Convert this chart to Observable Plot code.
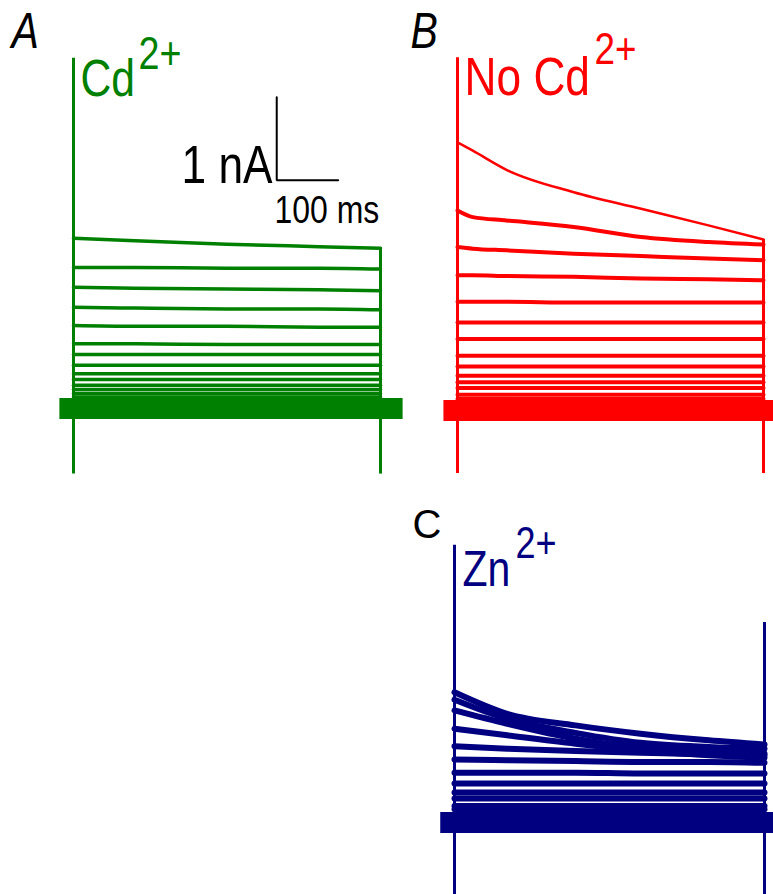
<!DOCTYPE html>
<html><head><meta charset="utf-8">
<script src="https://cdn.jsdelivr.net/npm/d3@7"></script>
<script src="https://cdn.jsdelivr.net/npm/@observablehq/plot@0.6"></script>
<style>
html,body{margin:0;padding:0;background:#fff;}
#fig{position:relative;width:773px;height:894px;overflow:hidden;background:#fff;}
#fig > div{position:absolute;}
#fig svg{display:block;}
</style></head>
<body>
<div id="fig">
  <div id="pA" style="left:0;top:0"></div>
  <div id="pB" style="left:400px;top:0"></div>
  <div id="pC" style="left:400px;top:480px"></div>
</div>
<script>
// ---- Data (time in ms, current in nA) ----
const panelLetters = ["A", "B", "C"];
const solutionNames = ["Cd", "No Cd", "Zn"];
const ionCharge = "2+";
const scaleBarLabels = ["1 nA", "100 ms"];
const scaleBarTimes = [0, 100];      // ms
const scaleBarCurrents = [0, 1];     // nA

const holdingTimes = [-23, 536];
const holdingCurrents = [0, 0];

const transientTimes = [0, 500];

// Panel A: Cd2+
const timesA = [0, 100, 250, 400, 500];
const cdCurrents = [
  [2.05, 2.02, 1.98, 1.95, 1.93],
  [1.70, 1.70, 1.69, 1.69, 1.68],
  [1.46, 1.45, 1.44, 1.43, 1.42],
  [1.22, 1.21, 1.20, 1.20, 1.19],
  [1.00, 0.99, 0.99, 0.98, 0.98],
  [0.78, 0.78, 0.77, 0.77, 0.77],
  [0.65, 0.65, 0.65, 0.65, 0.65],
  [0.52, 0.52, 0.52, 0.52, 0.52],
  [0.42, 0.42, 0.42, 0.42, 0.42],
  [0.35, 0.35, 0.35, 0.35, 0.35],
  [0.28, 0.28, 0.28, 0.28, 0.28],
  [0.23, 0.23, 0.23, 0.23, 0.23],
  [0.18, 0.18, 0.18, 0.18, 0.18],
  [0.14, 0.14, 0.14, 0.14, 0.14]
];
const cdTransientPeaks = [4.22, 1.93];
const cdTransientTroughs = [-0.79, -0.79];

// Panel B: No Cd2+
const timesB = [0, 25, 80, 190, 300, 410, 500];
const noCdCurrents = [
  [3.23, 3.13, 2.90, 2.63, 2.43, 2.23, 2.06],
  [2.41, 2.33, 2.29, 2.21, 2.09, 2.03, 2.00],
  [1.97, 1.95, 1.93, 1.89, 1.86, 1.83, 1.81],
  [1.63, 1.63, 1.62, 1.61, 1.59, 1.58, 1.57],
  [1.31, 1.31, 1.31, 1.30, 1.30, 1.30, 1.30],
  [1.06, 1.06, 1.06, 1.06, 1.06, 1.06, 1.06],
  [0.86, 0.86, 0.86, 0.86, 0.86, 0.86, 0.86],
  [0.66, 0.66, 0.66, 0.66, 0.66, 0.66, 0.66],
  [0.53, 0.53, 0.53, 0.53, 0.53, 0.53, 0.53],
  [0.42, 0.42, 0.42, 0.42, 0.42, 0.42, 0.42],
  [0.34, 0.34, 0.34, 0.34, 0.34, 0.34, 0.34],
  [0.27, 0.27, 0.27, 0.27, 0.27, 0.27, 0.27],
  [0.19, 0.19, 0.19, 0.19, 0.19, 0.19, 0.19],
  [0.14, 0.14, 0.14, 0.14, 0.14, 0.14, 0.14]
];
const noCdTransientPeaks = [4.25, 2.06];
const noCdTransientTroughs = [-0.76, -0.76];

// Panel C: Zn2+
const timesC = [0, 85, 195, 300, 410, 500];
const znCurrents = [
  [1.57, 1.31, 1.17, 1.07, 0.99, 0.94],
  [1.48, 1.25, 1.08, 0.96, 0.91, 0.89],
  [1.35, 1.19, 1.01, 0.90, 0.85, 0.83],
  [1.13, 1.05, 0.95, 0.87, 0.81, 0.78],
  [0.92, 0.89, 0.86, 0.84, 0.82, 0.81],
  [0.76, 0.75, 0.74, 0.73, 0.73, 0.72],
  [0.60, 0.60, 0.60, 0.59, 0.59, 0.59],
  [0.47, 0.47, 0.47, 0.47, 0.47, 0.47],
  [0.36, 0.36, 0.36, 0.36, 0.36, 0.36],
  [0.29, 0.29, 0.29, 0.29, 0.29, 0.29],
  [0.20, 0.20, 0.20, 0.20, 0.20, 0.20],
  [0.16, 0.16, 0.16, 0.16, 0.16, 0.16]
];
const znTransientPeaks = [3.34, 2.41];
const znTransientTroughs = [-0.9, -0.9];

// ---- Helpers ----
const NARROW = "'Liberation Sans Narrow', 'Arial Narrow', 'Liberation Sans', Arial, sans-serif";
const REGULAR = "'Liberation Sans', Arial, sans-serif";
const NARROW_SCALE = 0.82;
const PX_PER_NA = 83;

function rowsOf(times, currents) {
  return currents.flatMap((vals, k) => vals.map((v, j) => ({trace: k, t: times[j], i: v})));
}
const holdingRows = holdingTimes.map((t, j) => ({t, i: holdingCurrents[j]}));
function transientRows(peaks, troughs) {
  return transientTimes.map((t, j) => ({t, hi: peaks[j], lo: troughs[j]}));
}
function label(text, o) {
  return Plot.text([text], {
    frameAnchor: "top-left", text: d => d, textAnchor: "start", lineAnchor: "bottom",
    fontFamily: NARROW, ...o
  });
}
// condense text drawn in the narrow family (the narrow face is not installed)
function condense(svg) {
  svg.querySelectorAll('g[font-family*="Narrow"] text').forEach(t => {
    const tr = t.getAttribute("transform") || "";
    const x = parseFloat(t.getAttribute("x")) || 0;
    t.removeAttribute("x");
    t.setAttribute("transform", `${tr} translate(${x},0) scale(${NARROW_SCALE},1)`);
  });
  return svg;
}

function panel({width, height, xr, y0, color, times, currents, peaks, troughs, traceW, topW, letter, letterOpts, name, nameOpts, chargeOpts, extra = []}) {
  const rows = rowsOf(times, currents);
  const topRows = topW ? rows.filter(d => d.trace === 0) : [];
  const restRows = topW ? rows.filter(d => d.trace !== 0) : rows;
  return condense(Plot.plot({
    width, height, margin: 0,
    x: {domain: [0, 500], range: xr, axis: null},
    y: {domain: [0, 1], range: [y0, y0 - PX_PER_NA], axis: null},
    style: {background: "transparent", overflow: "visible"},
    marks: [
      Plot.line(holdingRows, {x: "t", y: "i", stroke: color, strokeWidth: 21, strokeLinecap: "butt"}),
      Plot.line(restRows, {x: "t", y: "i", z: "trace", stroke: color, strokeWidth: traceW, curve: "monotone-x"}),
      ...(topW ? [Plot.line(topRows, {x: "t", y: "i", stroke: color, strokeWidth: topW, curve: "monotone-x"})] : []),
      Plot.ruleX(transientRows(peaks, troughs), {x: "t", y1: "lo", y2: "hi", stroke: color, strokeWidth: 3}),
      label(letter, {fill: "#000", ...letterOpts}),
      label(name, {fill: color, ...nameOpts}),
      label(ionCharge, {fill: color, ...chargeOpts}),
      ...extra
    ]
  }));
}

// ---- Panel A ----
const barOrigin = {t: 331, i: 2.75};
const barRows = [
  {t: barOrigin.t + scaleBarTimes[0], i: barOrigin.i + scaleBarCurrents[1]},
  {t: barOrigin.t + scaleBarTimes[0], i: barOrigin.i + scaleBarCurrents[0]},
  {t: barOrigin.t + scaleBarTimes[1], i: barOrigin.i + scaleBarCurrents[0]}
];
const green = "#008000", red = "#ff0000", navy = "#000080";

document.getElementById("pA").append(panel({
  width: 400, height: 480, xr: [73, 380], y0: 408, color: green,
  times: timesA, currents: cdCurrents, peaks: cdTransientPeaks, troughs: cdTransientTroughs,
  traceW: 3.5,
  letter: panelLetters[0], letterOpts: {dx: 11, dy: 47, fontSize: 50, fontStyle: "italic"},
  name: solutionNames[0], nameOpts: {dx: 80, dy: 95, fontSize: 52},
  chargeOpts: {dx: 138, dy: 68, fontSize: 46},
  extra: [
    Plot.line(barRows, {x: "t", y: "i", stroke: "#000", strokeWidth: 2, strokeLinejoin: "miter"}),
    label(scaleBarLabels[0], {dx: 181, dy: 182, fontSize: 54, fill: "#000"}),
    label(scaleBarLabels[1], {dx: 274, dy: 222, fontSize: 39, fill: "#000"})
  ]
}));

// ---- Panel B ----
document.getElementById("pB").append(panel({
  width: 373, height: 480, xr: [57, 363], y0: 410, color: red,
  times: timesB, currents: noCdCurrents, peaks: noCdTransientPeaks, troughs: noCdTransientTroughs,
  traceW: 4, topW: 2.5,
  letter: panelLetters[1], letterOpts: {dx: 10, dy: 47, fontSize: 50, fontStyle: "italic"},
  name: solutionNames[1], nameOpts: {dx: 64, dy: 94, fontSize: 54},
  chargeOpts: {dx: 194, dy: 63, fontSize: 45}
}));

// ---- Panel C ----
document.getElementById("pC").append(panel({
  width: 373, height: 414, xr: [54, 364], y0: 342, color: navy,
  times: timesC, currents: znCurrents, peaks: znTransientPeaks, troughs: znTransientTroughs,
  traceW: 6,
  letter: panelLetters[2], letterOpts: {dx: 12, dy: 57, fontSize: 40, fontFamily: REGULAR},
  name: solutionNames[2], nameOpts: {dx: 62, dy: 105, fontSize: 50},
  chargeOpts: {dx: 115, dy: 77, fontSize: 44}
}));
</script>
</body></html>
